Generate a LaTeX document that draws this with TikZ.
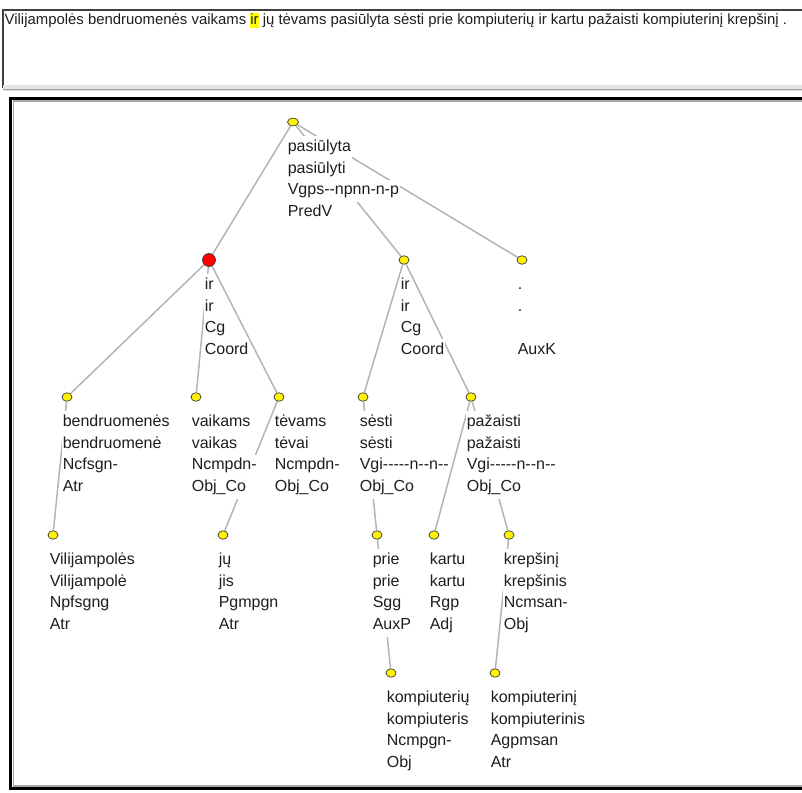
\documentclass[tikz,border=0pt]{standalone}
\usepackage{fontspec}
\setmainfont{Liberation Sans}
\usetikzlibrary{shapes.geometric,backgrounds}

\definecolor{ink}{HTML}{1E1E1E}
\definecolor{edgegray}{HTML}{B4B4B4}
\definecolor{dotline}{HTML}{3C3C3C}
\definecolor{marker}{HTML}{FFFF00}
\definecolor{bandgray}{HTML}{E4E4E4}
\definecolor{rulegray}{HTML}{9C9C9C}
\definecolor{innergray}{HTML}{A8A8A8}
\definecolor{panelline}{HTML}{404040}

% a hyphen that never joins its neighbour into an en dash
\newcommand\hyph{-\kern0pt }
% yellow marker behind the selected word of the sentence
\newcommand\marked[1]{{\fboxsep=0pt\colorbox{marker}{\rule[-3.3pt]{0pt}{15pt}#1}}}

\tikzset{
  dot/.style={ellipse, draw=dotline, fill=yellow, line width=0.7pt,
              minimum width=10pt, minimum height=8.5pt, inner sep=0pt},
  reddot/.style={circle, draw=dotline, fill=red, line width=0.7pt,
              minimum size=13pt, inner sep=0pt},
  edge/.style={draw=edgegray, line width=1.5pt},
  lbl/.style={anchor=base west, font=\fontsize{16}{19}\selectfont, text=ink,
              fill=white, inner sep=0.6pt, text height=14.5pt, text depth=6.6pt},
  sentence/.style={anchor=base west, font=\fontsize{14.9}{18}\selectfont,
              text=ink, inner sep=0pt}
}

% four stacked lines under a tree node: form, lemma, tag, function
\newcommand\wordlabel[7]{%
  \node[lbl] (#1-1) at (#2,#3+29.5) {#4};
  \node[lbl] (#1-2) at (#2,#3+51.2) {#5};
  \node[lbl] (#1-3) at (#2,#3+72.8) {#6};
  \node[lbl] (#1-4) at (#2,#3+94.5) {#7};
}

\begin{document}
\begin{tikzpicture}[x=1pt,y=-1pt]
\useasboundingbox (0,0) rectangle (802,792);

% sentence panel
\draw[panelline, line width=1.2pt] (3,88) -- (3,10) -- (802,10);
\fill[bandgray] (3,84.5) rectangle (802,91);
\draw[rulegray, line width=1.2pt] (3,89.6) -- (802,89.6);
\node[sentence] (sent) at (4.5,24.5) {Vilijampolės bendruomenės vaikams \marked{ir} jų tėvams pasiūlyta sėsti prie kompiuterių ir kartu pažaisti kompiuterinį krepšinį .};

% tree panel frame
\draw[black, line width=3pt] (802,98.5) -- (10.5,98.5) -- (10.5,788.5) -- (802,788.5);
\draw[innergray, line width=1.5pt] (802,101.2) -- (13.5,101.2) -- (13.5,785.8) -- (802,785.8);

% tree nodes
\node[dot, minimum width=11pt, minimum height=8pt] (root) at (293,122) {};
\node[reddot] (coordA) at (209,260) {};
\node[dot] (coordB) at (404,260) {};
\node[dot] (auxk)   at (522,260) {};
\node[dot] (bendr)  at (67,397) {};
\node[dot] (vaik)   at (196,397) {};
\node[dot] (tev)    at (279,397) {};
\node[dot] (sesti)  at (363,397) {};
\node[dot] (paz)    at (471,397) {};
\node[dot] (vilij)  at (53,535) {};
\node[dot] (ju)     at (223,535) {};
\node[dot] (prie)   at (377,535) {};
\node[dot] (kartu)  at (434,535) {};
\node[dot] (krep)   at (509,535) {};
\node[dot] (komp)   at (391,673) {};
\node[dot] (kompi)  at (495,673) {};

% dependency edges, kept behind labels and nodes
\begin{scope}[on background layer]
  \draw[edge] (root) -- (coordA);
  \draw[edge] (root) -- (coordB);
  \draw[edge] (root) -- (auxk);
  \draw[edge] (coordA) -- (bendr);
  \draw[edge] (coordA) -- (vaik);
  \draw[edge] (coordA) -- (tev);
  \draw[edge] (coordB) -- (sesti);
  \draw[edge] (coordB) -- (paz);
  \draw[edge] (bendr) -- (vilij);
  \draw[edge] (tev) -- (ju);
  \draw[edge] (sesti) -- (prie);
  \draw[edge] (paz) -- (kartu);
  \draw[edge] (paz) -- (krep);
  \draw[edge] (prie) -- (komp);
  \draw[edge] (krep) -- (kompi);
\end{scope}

% labels
\wordlabel{root}{287}{122}{pasiūlyta}{pasiūlyti}{Vgps\hyph\hyph npnn-n-p}{PredV}
\wordlabel{coordA}{204}{260}{ir}{ir}{Cg}{Coord}
\wordlabel{coordB}{400}{260}{ir}{ir}{Cg}{Coord}
\node[lbl] (auxk-1) at (517,260+29.5) {.};
\node[lbl] (auxk-2) at (517,260+51.2) {.};
\node[lbl] (auxk-4) at (517,260+94.5) {AuxK};
\wordlabel{bendr}{62}{397}{bendruomenės}{bendruomenė}{Ncfsgn-}{Atr}
\wordlabel{vaik}{191}{397}{vaikams}{vaikas}{Ncmpdn-}{Obj\_Co}
\wordlabel{tev}{274}{397}{tėvams}{tėvai}{Ncmpdn-}{Obj\_Co}
\wordlabel{sesti}{359}{397}{sėsti}{sėsti}{Vgi\hyph\hyph\hyph\hyph\hyph n\hyph\hyph n\hyph\hyph}{Obj\_Co}
\wordlabel{paz}{466}{397}{pažaisti}{pažaisti}{Vgi\hyph\hyph\hyph\hyph\hyph n\hyph\hyph n\hyph\hyph}{Obj\_Co}
\wordlabel{vilij}{49}{535}{Vilijampolės}{Vilijampolė}{Npfsgng}{Atr}
\wordlabel{ju}{218}{535}{jų}{jis}{Pgmpgn}{Atr}
\wordlabel{prie}{372}{535}{prie}{prie}{Sgg}{AuxP}
\wordlabel{kartu}{429}{535}{kartu}{kartu}{Rgp}{Adj}
\wordlabel{krep}{503}{535}{krepšinį}{krepšinis}{Ncmsan-}{Obj}
\wordlabel{komp}{386}{673}{kompiuterių}{kompiuteris}{Ncmpgn-}{Obj}
\wordlabel{kompi}{490}{673}{kompiuterinį}{kompiuterinis}{Agpmsan}{Atr}

\end{tikzpicture}
\end{document}
